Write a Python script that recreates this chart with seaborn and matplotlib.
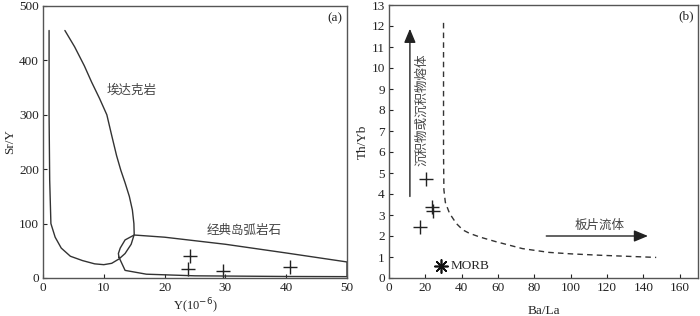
import matplotlib
matplotlib.use("Agg")
import matplotlib.pyplot as plt
import pandas as pd
import seaborn as sns

# panel (a): Sr/Y vs Y
adakite_y = [1.0, 1.0, 1.1, 1.3, 2.0, 3.0, 4.5, 6.5, 8.5, 10.0, 11.3, 12.5, 13.5, 14.5, 15.0, 14.95, 14.7, 14.2, 13.5, 12.8, 12.1, 11.3, 10.5, 9.3, 8.0, 6.8, 5.2, 3.6]
adakite_sry = [455, 300, 180, 100, 75, 55, 40, 32, 26, 24.5, 27, 35, 45, 62, 80, 100, 125, 150, 175, 198, 225, 262, 300, 330, 360, 390, 425, 455]
arc_y = [12.5, 12.4, 12.7, 13.5, 15.0, 20.0, 30.0, 40.0, 50.0, 50.0, 40.0, 25.0, 17.0, 13.5, 12.5]
arc_sry = [38, 45, 55, 70, 79, 75, 62, 46, 29.5, 2.5, 2.8, 4, 7, 14, 38]
sample_y = [24.2, 23.9, 29.6, 40.6]
sample_sry = [41, 16, 13.5, 21]

# panel (b): Th/Yb vs Ba/La
bound_bala = [30.0, 30.0, 30.2, 31.0, 33.3, 37.0, 40.6, 44.2, 50.0, 58.8, 73.4, 87.9, 100.0, 117.0, 147.0]
bound_thyb = [12.15, 6.0, 4.2, 3.6, 3.08, 2.6, 2.29, 2.13, 1.95, 1.73, 1.40, 1.22, 1.15, 1.08, 0.98]
sample_bala = [20.6, 23.9, 24.2, 16.9]
sample_thyb = [4.7, 3.37, 3.19, 2.41]
morb_bala = [28.8]
morb_thyb = [0.57]

sns.set_style("ticks")
plt.rcParams["font.family"] = ["Liberation Serif", "Noto Sans CJK SC"]
plt.rcParams["font.size"] = 9.5
plt.rcParams["axes.unicode_minus"] = False

fig = plt.figure(figsize=(7.0, 3.16), dpi=100)
ax1 = fig.add_axes([43 / 700, 38 / 316, 304 / 700, 272 / 316])
ax2 = fig.add_axes([389 / 700, 38 / 316, 309 / 700, 273 / 316])

line_kw = dict(color="#333333", linewidth=1.0, sort=False, estimator=None)

df_ad = pd.DataFrame({"Y": adakite_y, "SrY": adakite_sry})
df_arc = pd.DataFrame({"Y": arc_y, "SrY": arc_sry})
sns.lineplot(data=df_ad, x="Y", y="SrY", ax=ax1, **line_kw)
sns.lineplot(data=df_arc, x="Y", y="SrY", ax=ax1, **line_kw)
sns.scatterplot(x=sample_y, y=sample_sry, marker="+", s=110, color="#222222",
                linewidth=1.0, ax=ax1)

ax1.set_xlim(0, 50)
ax1.set_ylim(0, 500)
ax1.set_xticks([0, 10, 20, 30, 40, 50])
ax1.set_yticks([0, 100, 200, 300, 400, 500])
ax1.set_xlabel("Y(10$^{-6}$)", fontsize=9)
ax1.xaxis.set_label_coords(0.5, -0.068)
ax1.set_ylabel("Sr/Y", fontsize=9.5, labelpad=2)
ax1.text(14.6, 345, "埃达克岩", fontsize=9, color="#444444", ha="center", va="center")
ax1.text(33.0, 86, "经典岛弧岩石", fontsize=9, color="#444444", ha="center", va="center")
ax1.text(49.3, 478, "(a)", fontsize=9.5, ha="right", va="center")

df_b = pd.DataFrame({"BaLa": bound_bala, "ThYb": bound_thyb})
sns.lineplot(data=df_b, x="BaLa", y="ThYb", ax=ax2, color="#333333", linewidth=1.0,
             linestyle=(0, (4, 3)), sort=False, estimator=None)
sns.scatterplot(x=sample_bala, y=sample_thyb, marker="+", s=110, color="#222222",
                linewidth=1.0, ax=ax2)
sns.scatterplot(x=morb_bala, y=morb_thyb, marker=(8, 2, 0), s=90, color="#111111",
                linewidth=1.2, ax=ax2)
ax2.text(34, 0.57, "MORB", fontsize=9.5, ha="left", va="center")

ax2.annotate("", xy=(11.5, 12.0), xytext=(11.5, 3.75),
             arrowprops=dict(arrowstyle="-|>,head_length=0.6,head_width=0.25",
                             color="#222222", lw=1.0, mutation_scale=14))
ax2.text(18.0, 8.0, "沉积物或沉积物熔体", rotation=90, fontsize=9, color="#444444",
         ha="center", va="center")
ax2.annotate("", xy=(144, 2.0), xytext=(85, 2.0),
             arrowprops=dict(arrowstyle="-|>,head_length=0.6,head_width=0.25",
                             color="#222222", lw=1.0, mutation_scale=14))
ax2.text(116, 2.5, "板片流体", fontsize=9, color="#444444", ha="center", va="center")
ax2.text(168, 12.45, "(b)", fontsize=9.5, ha="right", va="center")

ax2.set_xlim(0, 170)
ax2.set_ylim(0, 13)
ax2.set_xticks(range(0, 161, 20))
ax2.set_yticks(range(0, 14))
ax2.set_xlabel("Ba/La", fontsize=9.5, labelpad=8)
ax2.set_ylabel("Th/Yb", fontsize=9.5, labelpad=2)

for ax in (ax1, ax2):
    ax.tick_params(direction="in", length=3, width=0.8, pad=3, labelsize=9.5,
                   colors="#222222")
    for sp in ax.spines.values():
        sp.set_visible(True)
        sp.set_color("#555555")
        sp.set_linewidth(1.0)

fig.savefig("out.png", dpi=100)
